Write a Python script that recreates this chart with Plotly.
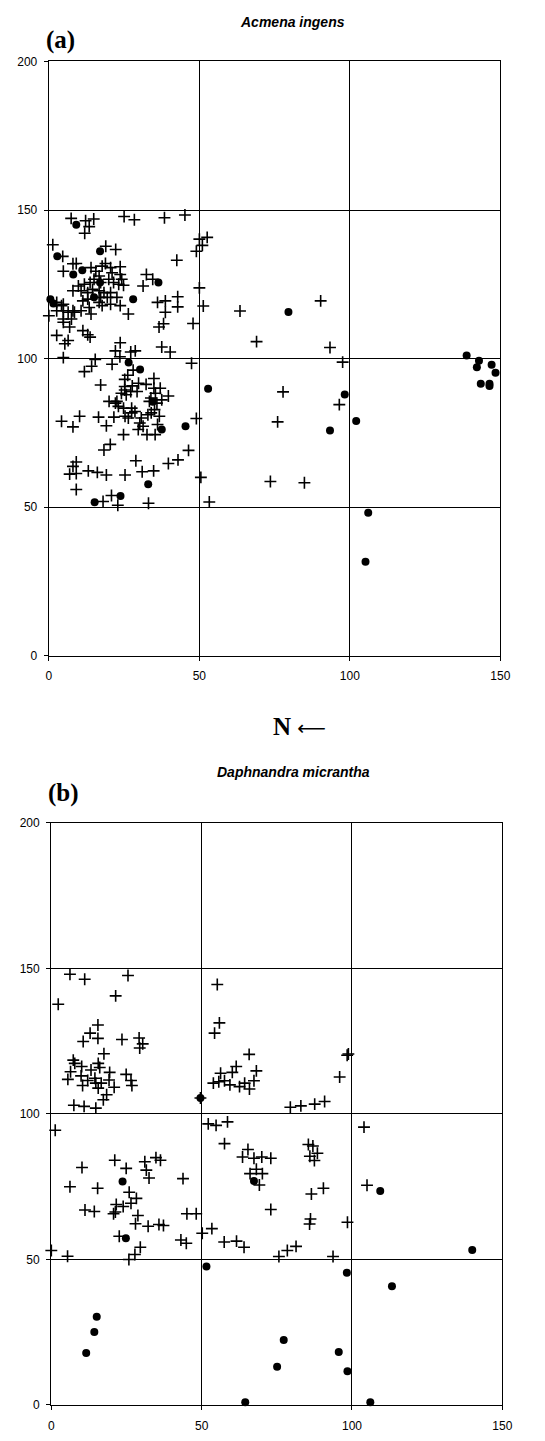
import plotly.graph_objects as go

# ---------------- Panel (a): Acmena ingens ----------------
a_plus_x = [7.4, 12.2, 14.9, 13.4, 11.9, 25, 28.4, 38.4, 45.2, 1.3, 4.6, 18.9, 22.2, 8, 42.5,
            50, 52.6, 51, 49, 50, 51.3, 47.9, 63.5, 90.3, 69, 93.4, 47.4, 97.6, 77.8, 96.5, 49, 76, 50.5, 73.6, 84.9, 53.3,
            38.7, 38.7, 42.8, 42.8, 36.6, 38.1,
            4.8, 9.1, 14, 15.6, 17.7, 18.8, 20.5, 21, 23.7, 23.7, 24.2, 16.7, 15, 13.7, 17.2, 19.9, 21.5, 23.2, 24.8,
            11.8, 9.8, 8, 10.7, 12.9, 14.5, 16.7, 18.3, 20.5, 19.4, 17.2, 12.9, 11.3, 16.7, 17.7, 13.4, 10.7, 20.5,
            23.7, 22.6, 26.4, 14, 8.5, 6.4, 4.2, 2.6, 4.8, 2.6, 4.8, 8, 0, 4.8, 7.5, 4.8, 6.9, 2.6, 6.4, 5.3, 11.3,
            12.9, 13.7, 23.7, 32.4, 34.5, 31.3, 36.1,
            22.1, 27.2, 28.7, 37.5, 40.3, 4.8, 15.4, 14.2, 11.8, 21, 23.6, 28, 26.2, 25.2, 17.2,
            25.2, 27.7, 29.8, 32.3, 34.9, 34.9, 37, 37.5, 39.7, 35.4, 33.4, 22.1, 20, 22.6, 24.1, 25.2, 25.7, 27.2,
            29.3, 33.9, 35.9,
            23.1, 24.8, 27.5, 28.6, 30.7, 30.2, 29.7, 31.3, 32.9, 34, 35.1, 36.7, 36.1, 25.3, 26.4, 27.5, 32.6, 35.3,
            10.2, 8, 4.2, 16.5, 21.6, 19.1, 24.8, 20.4, 18.3, 28.9, 9.1, 8, 6.9, 9.1, 13.1, 16.1, 19.1, 25.3, 31,
            34.8, 9.1, 39.7, 42.9, 46.4, 18, 20.8, 22.9, 33.1]
a_plus_y = [147.2, 146.4, 147, 144.4, 142.2, 147.8, 146.7, 147.4, 148.3, 138.3, 134.4, 137.8, 136.7, 131.9, 133.1,
            140.2, 140.8, 138.1, 136.1, 123.8, 117.7, 111.8, 116, 119.4, 105.7, 103.7, 98.4, 98.8, 88.8, 84.5, 79.8, 78.7, 60, 58.6, 58.2, 51.7,
            119.4, 115.6, 120.8, 117.4, 110.6, 111.7,
            129.4, 132, 130.6, 129.4, 131.1, 132, 130.6, 128.9, 130.9, 128.3, 126.7, 127.8, 126.7, 125.6, 125.6, 126.7, 125.6, 125, 124.7,
            125, 124.4, 122.8, 122.8, 122.2, 123.3, 122.8, 122.2, 122.2, 120.6, 120.6, 120, 119.4, 118.9, 117.8, 117.2, 116.1, 118.3,
            117.8, 120.6, 115, 115, 115.6, 115.6, 117.8, 118.9, 118.3, 116.1, 116.1, 116.1, 114.4, 113.3, 113.3, 112.2, 110.6, 107.8, 106.1, 105, 109.4,
            108, 107.2, 105.3, 128.3, 126.7, 124.4, 118.9,
            102.6, 102.2, 102.6, 103.9, 102.2, 100.3, 99.7, 97.4, 95.6, 98.1, 100.6, 96.1, 94.4, 93, 91.1,
            90.6, 90.8, 91.7, 91.3, 93.3, 90, 90, 86.1, 87.4, 88.3, 85.6, 85, 85.6, 85.6, 88.3, 89.4, 87.8, 88.9,
            88.9, 86.7, 85,
            83.9, 83.3, 83.3, 82.2, 80, 78.3, 76.1, 77.2, 81.1, 81.7, 82.8, 80.6, 77.8, 80.6, 80, 81.7, 74.4, 74.4,
            80.6, 77, 78.9, 80.3, 80.3, 77.4, 74.4, 71.1, 69.2, 65.6, 65.2, 63.7, 61.1, 61.3, 62.2, 61.7, 60.8, 60.8, 61.9,
            62.2, 55.9, 64.7, 65.9, 69.1, 51.9, 53.9, 50.6, 51.3]

a_dot_x = [9.1, 2.8, 17, 8.1, 11.1, 36.4, 28, 15, 17, 0.5, 1.5, 79.6, 138.8, 142.9, 142.2, 147.1, 148.4,
           143.5, 146.4, 146.4, 52.9, 98.3, 102.1, 93.4, 106.1, 105.2, 26.5, 30.3, 37.5, 45.4, 33, 23.8, 15.2, 34.5]
a_dot_y = [145, 134.4, 136.1, 128.3, 129.7, 125.6, 120, 120.6, 125.6, 120, 118.5, 115.7, 101, 99.3, 97.1, 97.9, 95.2,
           91.5, 91.5, 90.8, 89.8, 87.9, 79, 75.8, 48.1, 31.6, 98.7, 96.3, 76.1, 77.2, 57.7, 53.7, 51.6, 85.5]

# ---------------- Panel (b): Daphnandra micrantha ----------------
b_plus_x = [6.2, 11.1, 25.5, 21.4, 2.3, 15.5, 12.9, 15.5, 10.6, 23.5, 29.2, 30.4, 29.4, 17.5, 55.2, 55.9, 54.3, 65.8,
            7.3, 7.8, 10.1, 6.4, 13.2, 15.6, 16.1, 19.4, 5.5, 9.9, 12.1, 10.4, 14.5, 14.8, 15.6, 16.6, 19.2, 20.9,
            24.9, 26.5, 26.8, 18.4, 17.3, 7.5, 10.9, 14.8, 49.6,
            56.3, 55.7, 53.9, 57.6, 60.2, 61.5, 59.4, 62.6, 64.3, 65.9, 67.4, 68.2,
            98.4, 98.8, 95.9, 90.9, 87.6, 79.5, 83,
            1.3, 52.2, 54.8, 58.6, 57.6, 10.2, 21.1, 24.9, 31.1, 31.6, 32.5, 34.8, 36.3, 6.2, 15.4, 25.9, 28.3,
            26.5, 23.9, 21.6, 21.3, 20.7, 11.2, 14.3, 28.8, 28, 32.2, 35.8, 37.3, 43.8, 45.1, 48.2, 53.4,
            65.4, 63.6, 67.4, 70, 73, 68.2, 66.1, 70.2, 69.2, 73,
            50.2, 86.2, 85.9, 98.5, 86.5,
            0, 5.4, 22.6, 29.6, 27.8, 25.8, 43.1, 44.9, 57.5, 61.6, 64.1, 75.7, 78.5, 81.4, 93.7,
            85.5, 87, 88.5, 86, 87.5, 90.5, 104, 105]
b_plus_y = [148, 146.3, 147.6, 140.6, 137.7, 130.6, 127.8, 126, 124.9, 125.6, 126.1, 124.1, 122.7, 120.7, 144.5, 131.3, 127.8, 120.5,
            118.5, 117.4, 116.3, 114.5, 115.1, 117.4, 116, 114.3, 111.9, 113.1, 111.5, 109.8, 112.3, 110.6, 108.9, 110.6, 111.7, 109.2,
            113.6, 111.5, 109.8, 106.6, 104.9, 103, 102.6, 102, 105.5,
            114, 111.1, 110.6, 111.4, 114.3, 116.3, 110, 109.4, 110.6, 108.6, 111.4, 114.8,
            120.2, 120.6, 112.7, 104.3, 103.4, 102.3, 102.8,
            94.4, 96.6, 96.1, 97.3, 89.8, 81.6, 84.1, 81.3, 83.6, 80.7, 78, 85, 84.1, 75, 74.5, 73.1, 71,
            69.3, 68.2, 68.9, 66.3, 65.7, 67, 66.5, 65.1, 62.3, 61.4, 62, 61.7, 77.8, 65.7, 65.7, 60.6,
            87.8, 85.2, 84.8, 85.2, 84.8, 81, 79.5, 79.5, 75.6, 67.2,
            59, 63.9, 62.2, 62.8, 72.5,
            53.1, 51.1, 58, 54.2, 51.7, 50, 56.7, 55.6, 56, 56.3, 54.2, 51, 53.1, 54.5, 51,
            89.5, 89, 86.5, 85.5, 84, 74.5, 95.5, 75.5]

b_dot_x = [23.7, 67.4, 49.6, 24.8, 51.6, 98.3, 113.3, 140, 15.1, 14.3, 11.6, 77.3, 95.6, 75.1, 98.5, 64.5, 106.1, 109.4]
b_dot_y = [76.8, 77, 105.5, 57.3, 47.6, 45.4, 40.8, 53.3, 30.3, 25.1, 17.9, 22.3, 18.2, 13.1, 11.6, 0.9, 0.9, 73.5]

tick_vals = [0, 50, 100, 150, 200]
tick_text = ["0", "50", "100", "150", "200"]

W, H = 545, 1441

fig = go.Figure()

plus_marker = dict(symbol="cross-thin", size=8.5, color="black", line=dict(color="black", width=1.6))
dot_marker = dict(symbol="circle", size=8, color="black", line=dict(width=0))

fig.add_trace(go.Scatter(x=a_plus_x, y=a_plus_y, mode="markers", marker=plus_marker,
                         xaxis="x", yaxis="y", cliponaxis=False))
fig.add_trace(go.Scatter(x=a_dot_x, y=a_dot_y, mode="markers", marker=dot_marker,
                         xaxis="x", yaxis="y", cliponaxis=False))
fig.add_trace(go.Scatter(x=b_plus_x, y=b_plus_y, mode="markers", marker=plus_marker,
                         xaxis="x2", yaxis="y2", cliponaxis=False))
fig.add_trace(go.Scatter(x=b_dot_x, y=b_dot_y, mode="markers", marker=dot_marker,
                         xaxis="x2", yaxis="y2", cliponaxis=False))

tickfont = dict(family="Liberation Sans, Arial, sans-serif", size=12, color="black")
common = dict(showline=True, linecolor="black", linewidth=1.4, mirror=True,
              showgrid=True, gridcolor="black", gridwidth=1, zeroline=False,
              ticks="outside", ticklen=4, tickwidth=1, tickcolor="black",
              tickfont=tickfont, tickmode="array", fixedrange=True)

def px_x(p):
    return p / W

def px_y(p):
    return 1 - p / H

fig.update_layout(
    width=W, height=H,
    margin=dict(l=0, r=0, t=0, b=0),
    paper_bgcolor="white", plot_bgcolor="white",
    showlegend=False,
    xaxis=dict(common, domain=[px_x(47), px_x(509.5)], range=[0, 150], anchor="y",
               tickvals=tick_vals[:4], ticktext=tick_text[:4], ticklabelstandoff=5),
    yaxis=dict(common, domain=[px_y(655), px_y(55)], range=[0, 200], anchor="x",
               tickvals=tick_vals, ticktext=tick_text, ticklabelstandoff=4),
    xaxis2=dict(common, domain=[px_x(49.5), px_x(511.5)], range=[0, 150], anchor="y2",
                tickvals=tick_vals[:4], ticktext=tick_text[:4], ticklabelstandoff=5),
    yaxis2=dict(common, domain=[px_y(1411.7), px_y(824)], range=[0, 200], anchor="x2",
                tickvals=tick_vals, ticktext=tick_text, ticklabelstandoff=4),
)

serif = "Liberation Serif, Times New Roman, serif"
sans = "Liberation Sans, Arial, sans-serif"
annots = [
    dict(text="<b><i>Acmena ingens</i></b>", x=px_x(297), y=px_y(15), font=dict(family=sans, size=14, color="black")),
    dict(text="<b>(a)</b>", x=px_x(58.5), y=px_y(33), font=dict(family=serif, size=25, color="black")),
    dict(text="<b>N</b> <span style='font-family:DejaVu Sans;font-size:20px'>⟵</span>",
         x=px_x(304), y=px_y(727), font=dict(family=serif, size=25, color="black")),
    dict(text="<b><i>Daphnandra micrantha</i></b>", x=px_x(298), y=px_y(773), font=dict(family=sans, size=14, color="black")),
    dict(text="<b>(b)</b>", x=px_x(62), y=px_y(794), font=dict(family=serif, size=25, color="black")),
]
for an in annots:
    fig.add_annotation(xref="paper", yref="paper", showarrow=False, xanchor="center", yanchor="middle", **an)

fig.write_html("out.html")
